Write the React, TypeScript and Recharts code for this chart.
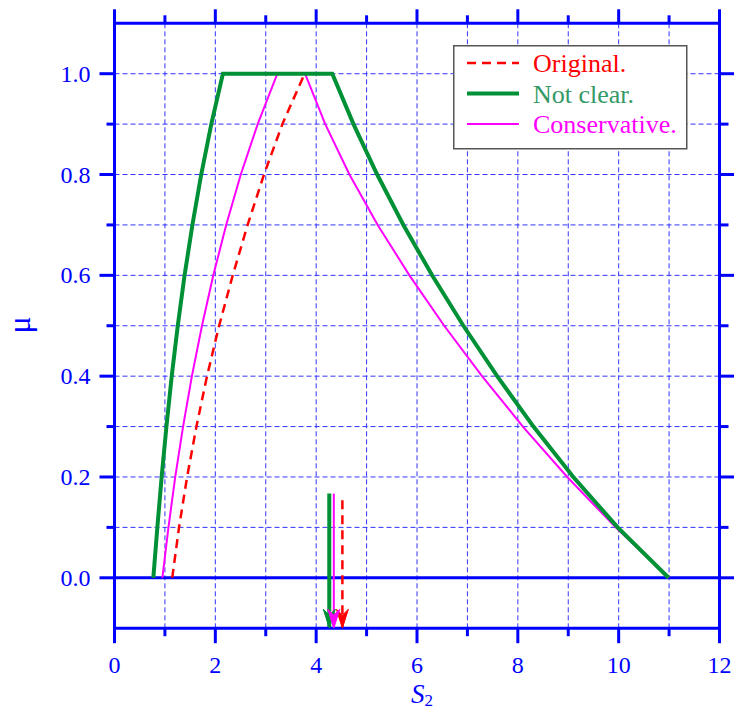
import React from 'react';
import { LineChart, Line, XAxis, YAxis, CartesianGrid, ReferenceLine, Legend } from 'recharts';

const FONT = "'Liberation Serif', 'Times New Roman', Times, serif";
const BLUE = '#0000ff';
const RED = '#ff0000';
const GREEN = '#009036';
const GREEN_TEXT = '#339966';
const MAGENTA = '#ff00ff';

// membership levels
const muLevels = [0, 0.1, 0.2, 0.3, 0.4, 0.5, 0.6, 0.7, 0.8, 0.9, 1.0];
const muLevelsDown = [1.0, 0.9, 0.8, 0.7, 0.6, 0.5, 0.4, 0.3, 0.2, 0.1, 0];

// Original (red dashed) – rising branch
const originalX = [1.145, 1.28, 1.44, 1.625, 1.835, 2.075, 2.345, 2.64, 2.965, 3.33, 3.77];
const originalMu = muLevels;

// Not clear (green)
const notClearXUp = [0.77, 0.85, 0.935, 1.03, 1.135, 1.255, 1.39, 1.545, 1.72, 1.92, 2.15];
const notClearXDown = [4.32, 4.74, 5.21, 5.73, 6.3, 6.92, 7.59, 8.31, 9.1, 9.98, 10.99];

// Conservative (magenta)
const conservativeXUp = [0.95, 1.07, 1.205, 1.36, 1.535, 1.735, 1.96, 2.215, 2.505, 2.84, 3.23];
const conservativeXDown = [3.78, 4.18, 4.66, 5.22, 5.85, 6.54, 7.29, 8.1, 8.98, 9.94, 11.0];

// defuzzified arrows
const arrowGreenX = 4.26;
const arrowMagentaX = 4.35;
const arrowRedX = 4.52;
const arrowGreenTop = 0.167;
const arrowMagentaTop = 0.167;
const arrowRedTop = 0.154;
const arrowBottom = -0.1;

const xTicks = [0, 1, 2, 3, 4, 5, 6, 7, 8, 9, 10, 11, 12];
const yTicks = [-0.1, 0, 0.1, 0.2, 0.3, 0.4, 0.5, 0.6, 0.7, 0.8, 0.9, 1.0, 1.1];

const zip = (xs: number[], ys: number[]) => xs.map((x, i) => ({ x, y: ys[i] }));

const originalData = zip(originalX, originalMu);
const notClearData = [...zip(notClearXUp, muLevels), ...zip(notClearXDown, muLevelsDown)];
const conservativeData = [...zip(conservativeXUp, muLevels), ...zip(conservativeXDown, muLevelsDown)];
const arrowGreenData = [{ x: arrowGreenX, y: arrowGreenTop }, { x: arrowGreenX, y: arrowBottom }];
const arrowMagentaData = [{ x: arrowMagentaX, y: arrowMagentaTop }, { x: arrowMagentaX, y: arrowBottom }];
const arrowRedData = [{ x: arrowRedX, y: arrowRedTop }, { x: arrowRedX, y: arrowBottom }];

const isMajorY = (v: number) => Math.round(v * 10) % 2 === 0 && v > -0.05 && v < 1.05;
const isInnerY = (v: number) => v > -0.05 && v < 1.05;

const textStyle = { fontFamily: FONT };

const BottomTick = (props: any) => {
  const { x, y, payload } = props;
  const v = payload.value;
  const major = v % 2 === 0;
  return (
    <g>
      <line x1={x} x2={x} y1={y} y2={y + (major ? 15 : 8)} stroke={BLUE} strokeWidth={3} />
      {major && (
        <text x={x} y={y + 45} textAnchor="middle" fill={BLUE} fontSize={24} style={textStyle}>
          {v}
        </text>
      )}
    </g>
  );
};

const TopTick = (props: any) => {
  const { x, y, payload } = props;
  const v = payload.value;
  const major = v % 2 === 0;
  return <line x1={x} x2={x} y1={y} y2={y - (major ? 14 : 8)} stroke={BLUE} strokeWidth={3} />;
};

const LeftTick = (props: any) => {
  const { x, y, payload } = props;
  const v = payload.value;
  if (!isInnerY(v)) return <g />;
  const major = isMajorY(v);
  return (
    <g>
      <line x1={x} x2={x - (major ? 15 : 8)} y1={y} y2={y} stroke={BLUE} strokeWidth={3} />
      {major && (
        <text x={x - 24} y={y + 8} textAnchor="end" fill={BLUE} fontSize={24} style={textStyle}>
          {v.toFixed(1)}
        </text>
      )}
    </g>
  );
};

const RightTick = (props: any) => {
  const { x, y, payload } = props;
  const v = payload.value;
  if (!isInnerY(v)) return <g />;
  const major = isMajorY(v);
  return <line x1={x} x2={x + (major ? 15 : 9)} y1={y} y2={y} stroke={BLUE} strokeWidth={3} />;
};

const makeArrowDot = (color: string) => (props: any) => {
  const { cx, cy, index } = props;
  if (index !== 1 || cx == null || cy == null) return <g key={`d${index}`} />;
  const d = `M${cx},${cy} L${cx - 6},${cy - 19} L${cx},${cy - 13} L${cx + 6},${cy - 19} Z`;
  return <path key={`d${index}`} d={d} fill={color} stroke={color} strokeWidth={1} />;
};

const XTitle = () => (
  <text x={411} y={703} fill={BLUE} style={textStyle}>
    <tspan fontSize={27} fontStyle="italic">S</tspan>
    <tspan fontSize={17} dy={3}>2</tspan>
  </text>
);

const YTitle = () => (
  <text
    x={0}
    y={0}
    transform="translate(30,325) rotate(-90)"
    textAnchor="middle"
    fill={BLUE}
    fontSize={32}
    style={textStyle}
  >
    μ
  </text>
);

const legendItems = [
  { label: 'Original.', color: RED, text: RED, width: 2.5, dash: '9 6' },
  { label: 'Not clear.', color: GREEN, text: GREEN_TEXT, width: 4, dash: undefined },
  { label: 'Conservative.', color: MAGENTA, text: MAGENTA, width: 2, dash: undefined },
];

const LegendBox = () => (
  <svg width={235} height={105} style={{ display: 'block' }}>
    <rect x={0.75} y={0.75} width={233} height={103} fill="#ffffff" stroke="#555555" strokeWidth={1.5} />
    {legendItems.map((it, i) => {
      const cy = 18 + i * 30.5;
      return (
        <g key={it.label}>
          <line x1={14} x2={66} y1={cy} y2={cy} stroke={it.color} strokeWidth={it.width} strokeDasharray={it.dash} />
          <text x={80} y={cy + 9} fill={it.text} fontSize={26} style={textStyle}>
            {it.label}
          </text>
        </g>
      );
    })}
  </svg>
);

export default function App() {
  return (
    <div style={{ position: 'absolute', left: 0, top: 0, width: 734, height: 711, background: '#ffffff' }}>
      <LineChart
        width={734}
        height={711}
        margin={{ top: 13.3, right: 4.5, bottom: 42.8, left: 14.5 }}
      >
        <CartesianGrid stroke="#3333ff" strokeDasharray="5 3" strokeWidth={1} />
        <XAxis
          dataKey="x"
          type="number"
          domain={[0, 12]}
          ticks={xTicks}
          allowDataOverflow
          height={40}
          tickSize={0}
          tickMargin={0}
          tickLine={false}
          tick={<BottomTick />}
          axisLine={{ stroke: BLUE, strokeWidth: 3, strokeLinecap: 'square' }}
          interval={0}
          label={<XTitle />}
        />
        <XAxis
          xAxisId="top"
          orientation="top"
          dataKey="x"
          type="number"
          domain={[0, 12]}
          ticks={xTicks}
          allowDataOverflow
          height={10}
          tickSize={0}
          tickMargin={0}
          tickLine={false}
          tick={<TopTick />}
          axisLine={{ stroke: BLUE, strokeWidth: 3, strokeLinecap: 'square' }}
          interval={0}
        />
        <YAxis
          type="number"
          domain={[-0.1, 1.1]}
          ticks={yTicks}
          allowDataOverflow
          width={100}
          tickSize={0}
          tickMargin={0}
          tickLine={false}
          tick={<LeftTick />}
          axisLine={{ stroke: BLUE, strokeWidth: 3, strokeLinecap: 'square' }}
          interval={0}
          label={<YTitle />}
        />
        <YAxis
          yAxisId="right"
          orientation="right"
          type="number"
          domain={[-0.1, 1.1]}
          ticks={yTicks}
          allowDataOverflow
          width={10}
          tickSize={0}
          tickMargin={0}
          tickLine={false}
          tick={<RightTick />}
          axisLine={{ stroke: BLUE, strokeWidth: 3, strokeLinecap: 'square' }}
          interval={0}
        />
        <ReferenceLine y={0} stroke={BLUE} strokeWidth={3} ifOverflow="visible" />
        <Line
          data={originalData}
          dataKey="y"
          type="linear"
          stroke={RED}
          strokeWidth={2.5}
          strokeDasharray="9 6"
          dot={false}
          isAnimationActive={false}
          legendType="none"
        />
        <Line
          data={conservativeData}
          dataKey="y"
          type="linear"
          stroke={MAGENTA}
          strokeWidth={2}
          dot={false}
          isAnimationActive={false}
          legendType="none"
        />
        <Line
          data={notClearData}
          dataKey="y"
          type="linear"
          stroke={GREEN}
          strokeWidth={4}
          dot={false}
          isAnimationActive={false}
          legendType="none"
        />
        <Line
          data={arrowRedData}
          dataKey="y"
          type="linear"
          stroke={RED}
          strokeWidth={2.5}
          strokeDasharray="9 6"
          dot={makeArrowDot(RED)}
          isAnimationActive={false}
          legendType="none"
        />
        <Line
          data={arrowGreenData}
          dataKey="y"
          type="linear"
          stroke={GREEN}
          strokeWidth={4}
          dot={makeArrowDot(GREEN)}
          isAnimationActive={false}
          legendType="none"
        />
        <Line
          data={arrowMagentaData}
          dataKey="y"
          type="linear"
          stroke={MAGENTA}
          strokeWidth={2}
          dot={makeArrowDot(MAGENTA)}
          isAnimationActive={false}
          legendType="none"
        />
        <Legend
          layout="horizontal"
          verticalAlign="middle"
          align="center"
          content={<LegendBox />}
          wrapperStyle={{ position: 'absolute', left: 453, top: 45, width: 235, height: 105 }}
        />
      </LineChart>
    </div>
  );
}
